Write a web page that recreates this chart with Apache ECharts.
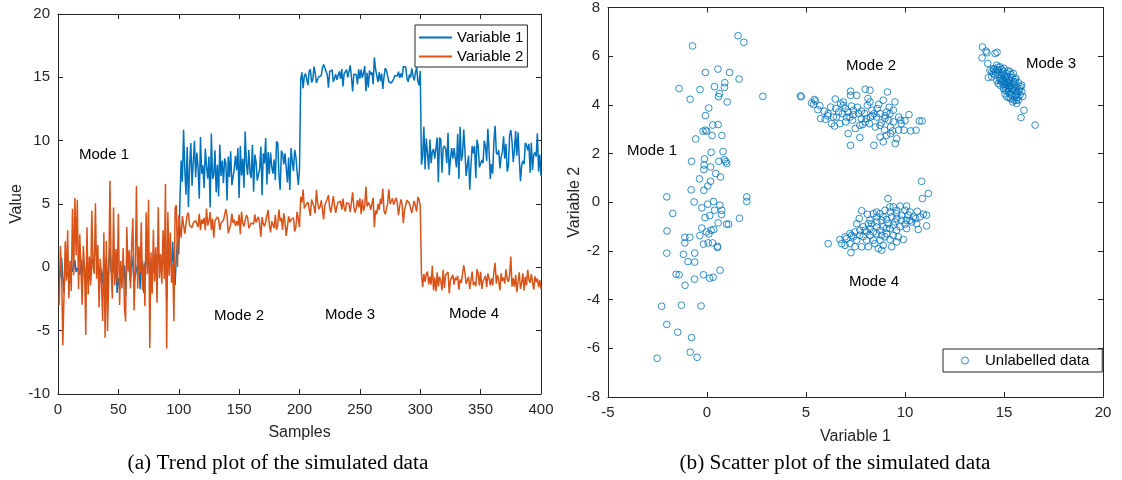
<!DOCTYPE html>
<html>
<head>
<meta charset="utf-8">
<script src="https://cdn.jsdelivr.net/npm/echarts@6/dist/echarts.min.js"></script>
<style>
html,body{margin:0;padding:0;background:#fff;}
#chart{width:1122px;height:480px;}
</style>
</head>
<body>
<div id="chart"></div>
<script>
// ---- Data (samples 1..400, four operating modes) ----
const var1Mode1 = [-0.18,-0.78,0.75,-0.85,-2.03,0.21,-0.26,-0.20,-0.96,-0.80,
0.53,-0.35,-0.10,0.55,-0.38,-0.08,-0.18,-0.57,0.65,-1.56,
0.60,0.04,-1.48,0.29,-1.19,0.18,-1.12,0.63,0.33,0.73,
1.62,1.09,-0.13,-0.63,0.04,-0.36,-1.29,0.26,-0.78,0.81,
-2.03,0.21,1.57,-0.26,-0.62,0.88,-0.87,0.18,-2.02,-0.85,
-1.41,-0.16,0.06,-0.15,0.13,-2.29,0.56,0.38,-0.16,-1.12,
0.88,0.09,-1.11,-0.65,-0.73,0.28,0.95,-1.73,-0.08,0.53,
-2.03,0.31,0.58,0.14,1.14,-0.50,0.44,-0.62,-0.08,0.34,
1.00,0.66,0.38,0.56,0.68,0.10,-0.01,0.99,1.86,-2.52,
2.82,1.64,0.75,-0.03,2.01,-0.30,-1.41,0.90,2.01,1.02];
const var2Mode1 = [-2.98,1.68,-0.33,-6.16,-2.09,2.05,-1.06,2.92,-2.44,0.51,
-1.86,4.63,-0.63,5.47,0.96,5.33,-1.72,2.60,-0.12,-2.96,
1.68,-0.08,-5.34,3.17,-2.14,0.86,-1.44,4.46,0.03,-0.51,
5.06,-0.90,1.78,-3.16,0.67,-1.37,-4.23,2.74,-5.56,2.08,
-5.02,-1.15,6.84,-0.23,-2.46,4.72,-1.44,1.45,-1.18,4.23,
-2.98,0.49,-1.67,1.53,-3.12,-4.27,3.19,-0.33,1.34,-1.67,
1.75,3.87,-3.41,0.01,6.42,-1.67,1.67,-0.46,3.56,-1.81,
0.22,-3.08,4.34,-0.55,5.33,-6.37,1.18,-2.09,2.96,-1.12,
1.59,-2.79,4.75,-0.85,1.04,-1.30,2.92,-0.90,6.57,-6.41,
4.35,-0.66,2.74,-1.22,0.22,-4.26,4.67,4.91,0.03,4.12];
const var1Mode2 = [5.38,8.43,6.75,10.86,7.72,5.74,9.49,4.76,8.00,9.81,
6.44,8.26,10.00,7.12,9.07,7.86,5.42,10.29,7.39,8.06,
6.24,9.38,7.99,7.00,8.74,4.72,10.56,6.98,7.25,9.24,
5.92,8.10,5.60,9.68,7.22,8.43,6.65,8.60,8.23,5.28,
8.74,7.13,9.17,6.48,6.38,7.80,8.80,7.66,9.41,5.48,
9.58,7.25,8.57,6.29,10.72,8.23,7.30,9.27,7.49,7.05,
9.68,5.97,8.90,8.35,6.85,6.88,7.79,9.51,5.70,8.99,
8.20,10.20,6.54,9.11,7.35,9.07,7.96,7.40,8.50,6.88,
9.95,9.78,7.25,6.12,9.20,8.97,8.13,9.00,8.90,6.71,
8.67,6.10,9.41,8.33,7.60,9.27,8.74,7.56,6.51,7.72];
const var2Mode2 = [4.02,2.34,4.05,3.34,2.66,3.44,4.12,4.33,3.30,3.23,
3.13,3.50,3.35,3.70,3.71,3.19,4.22,2.93,3.78,3.44,
3.91,2.93,4.64,3.30,3.64,4.37,2.96,3.85,2.34,3.64,
3.74,3.98,3.80,2.96,3.50,3.64,3.71,3.85,4.60,4.08,
2.68,2.82,3.37,4.24,3.50,3.75,3.26,3.64,3.30,4.16,
2.61,4.39,3.50,3.23,3.34,4.12,3.95,3.09,3.03,3.50,
3.50,3.41,4.19,3.55,3.64,3.98,3.44,2.41,3.97,3.44,
3.23,3.60,3.50,4.53,3.37,2.75,3.64,3.60,3.09,4.12,
2.96,3.37,4.56,3.64,3.90,2.96,4.26,3.55,2.48,3.23,
4.02,3.55,3.78,3.78,3.90,2.82,3.16,4.39,3.85,3.16];
const var1Mode3 = [14.80,15.39,14.14,15.10,15.30,15.20,14.38,15.47,15.64,14.60,
14.80,15.85,15.34,14.55,14.85,15.05,15.05,15.14,15.75,16.01,
15.73,15.47,15.20,14.18,15.45,15.56,15.60,14.63,14.71,15.25,
14.80,15.15,15.47,14.88,15.65,14.29,15.30,15.39,15.60,15.00,
14.97,15.95,15.05,13.89,15.25,15.14,15.22,14.45,15.64,14.90,
15.61,14.97,15.30,15.89,13.91,15.35,14.21,15.55,15.22,15.40,
14.46,16.57,15.64,15.50,14.63,15.39,14.71,15.30,14.09,15.05,
15.73,15.55,15.56,14.65,14.80,14.55,14.50,14.88,15.14,15.00,
15.10,15.44,14.95,15.30,15.00,15.86,15.90,15.81,14.90,14.65,
15.22,14.97,15.70,15.14,14.75,15.35,15.81,14.70,14.38,15.50];
const var2Mode3 = [5.56,5.12,6.14,4.65,4.88,4.90,5.15,4.60,4.06,5.35,
5.08,4.75,4.26,6.11,5.10,4.60,4.77,5.29,4.60,3.78,
4.91,4.95,5.40,5.70,4.70,4.33,4.40,5.63,4.88,4.30,
4.81,5.15,5.29,5.22,4.55,5.43,4.71,4.40,5.10,5.20,
5.01,4.35,5.12,5.93,4.75,4.33,4.67,5.30,4.74,5.45,
4.19,5.36,4.45,4.81,6.38,4.80,5.12,4.95,4.54,4.65,
5.49,3.17,4.49,4.20,5.01,4.54,5.40,5.00,6.21,4.45,
4.19,4.60,5.04,6.16,5.00,5.22,5.45,4.95,4.95,5.50,
5.05,4.12,4.85,5.36,4.95,3.48,4.55,4.67,5.30,5.45,
5.04,4.67,4.30,4.81,5.25,5.25,4.40,5.55,5.36,4.85];
const var1Mode4 = [8.10,8.74,11.09,7.72,10.17,8.99,7.72,10.08,8.23,9.14,
9.33,8.57,8.65,10.25,6.71,10.25,10.08,7.47,9.41,9.58,
9.33,8.23,10.62,7.27,8.57,9.41,8.57,9.41,9.49,7.89,
10.54,6.97,11.09,8.40,8.82,10.88,9.24,7.22,7.30,8.82,
6.12,8.06,9.58,8.99,9.58,7.05,10.08,9.58,7.89,7.81,
8.48,8.23,10.00,9.58,8.40,10.93,9.16,6.97,8.15,7.39,
10.00,11.18,9.07,8.90,9.24,7.81,8.74,9.07,10.34,8.57,
9.75,7.56,7.98,10.42,10.84,9.92,8.31,9.24,10.76,8.82,
10.67,8.57,6.80,8.06,8.40,8.15,9.83,9.66,9.24,9.75,
7.47,9.83,7.69,8.90,9.07,8.74,10.59,7.56,8.90,7.22];
const var2Mode4 = [-0.49,-1.56,-0.53,-1.15,-0.53,-0.33,-1.36,-0.74,-1.36,0.15,
-1.83,-0.81,-1.90,-0.40,-1.53,-0.74,-1.08,-1.83,-0.19,-1.63,
-0.60,-0.74,-0.37,-2.07,-1.01,-0.94,-0.60,-1.36,-0.81,-1.01,
-0.67,-1.77,-0.97,-1.22,-1.36,0.15,-0.40,-1.29,-1.36,-0.74,
-1.70,-1.56,-0.33,-1.42,-1.15,-1.49,-0.16,-0.47,-1.42,-0.35,
-1.70,-1.08,-0.90,-0.67,-1.56,-0.49,-0.88,-1.42,-0.88,-1.42,
-0.33,0.36,-1.29,-0.60,-1.08,-1.83,-0.47,-1.08,-0.81,-1.29,
-0.16,-0.88,-1.15,-0.60,0.86,-1.53,-0.88,-1.53,-0.60,-1.97,
-1.12,-0.40,-1.70,-1.22,-0.47,-1.83,-0.74,-1.42,-0.19,-1.01,
-1.22,-0.53,-0.67,-1.77,-0.71,-1.15,-0.88,-1.56,-1.01,-1.70];

const seriesNames = ['Variable 1', 'Variable 2'];
const scatterName = 'Unlabelled data';
const trendXTicks = {min: 0, max: 400, interval: 50};
const trendYTicks = {min: -10, max: 20, interval: 5};
const scatterXTicks = {min: -5, max: 20, interval: 5};
const scatterYTicks = {min: -8, max: 8, interval: 2};

// ---- Build series data ----
const var1 = [].concat(var1Mode1, var1Mode2, var1Mode3, var1Mode4);
const var2 = [].concat(var2Mode1, var2Mode2, var2Mode3, var2Mode4);
const trend1 = var1.map((v, i) => [i + 1, v]);
const trend2 = var2.map((v, i) => [i + 1, v]);
const scatterPts = var1.map((v, i) => [v, var2[i]]);

const AX = '#262626';
const SANS = '"Liberation Sans", Arial, Helvetica, sans-serif';
const SERIF = '"Liberation Serif", "Times New Roman", serif';
const BLUE = '#0072BD', ORANGE = '#D95319';

function axisBase(ticks, gridIndex, position, showLabel) {
  return Object.assign({
    type: 'value', gridIndex: gridIndex, position: position,
    axisLine: {show: true, onZero: false, lineStyle: {color: AX, width: 1}},
    axisTick: {show: true, inside: true, length: 5, lineStyle: {color: AX, width: 1}},
    axisLabel: {show: showLabel, color: AX, fontSize: 15, fontFamily: SANS, margin: 8},
    splitLine: {show: false}
  }, ticks);
}

const xAxes = [
  Object.assign(axisBase(trendXTicks, 0, 'bottom', true), {
    name: 'Samples', nameLocation: 'middle', nameGap: 31,
    nameTextStyle: {color: AX, fontSize: 16, fontFamily: SANS}
  }),
  axisBase(trendXTicks, 0, 'top', false),
  Object.assign(axisBase(scatterXTicks, 1, 'bottom', true), {
    name: 'Variable 1', nameLocation: 'middle', nameGap: 32,
    nameTextStyle: {color: AX, fontSize: 16, fontFamily: SANS}
  }),
  axisBase(scatterXTicks, 1, 'top', false)
];
const yAxes = [
  Object.assign(axisBase(trendYTicks, 0, 'left', true), {
    name: 'Value', nameLocation: 'middle', nameGap: 31,
    nameTextStyle: {color: AX, fontSize: 16, fontFamily: SANS}
  }),
  axisBase(trendYTicks, 0, 'right', false),
  Object.assign(axisBase(scatterYTicks, 1, 'left', true), {
    name: 'Variable 2', nameLocation: 'middle', nameGap: 20,
    nameTextStyle: {color: AX, fontSize: 16, fontFamily: SANS}
  }),
  axisBase(scatterYTicks, 1, 'right', false)
];

function label(text, x, y, font) {
  return {type: 'text', style: {text: text, x: x, y: y, textAlign: 'center',
    textVerticalAlign: 'middle', verticalAlign: 'middle', font: font, fill: '#000'}};
}
const f15 = '15px ' + SANS;
const fCap = '21.3px ' + SERIF;

const chart = echarts.init(document.getElementById('chart'), null, {renderer: 'canvas'});
chart.setOption({
  animation: false,
  backgroundColor: '#fff',
  grid: [
    {left: 58, top: 14, width: 483, height: 380},
    {left: 608, top: 7, width: 495, height: 390}
  ],
  xAxis: xAxes,
  yAxis: yAxes,
  legend: [
    {
      data: seriesNames, orient: 'vertical', left: 415, top: 25,
      padding: [4, 4, 2, 4], itemGap: 2, itemWidth: 33, itemHeight: 2, icon: 'rect',
      backgroundColor: '#fff', borderColor: AX, borderWidth: 1, borderRadius: 0,
      textStyle: {color: '#000', fontSize: 15, fontFamily: SANS, lineHeight: 17}
    },
    {
      data: [scatterName], orient: 'vertical', left: 943, top: 349,
      padding: [3, 13, 3, 18], itemWidth: 30, itemHeight: 7, icon: 'circle',
      itemStyle: {color: 'rgba(0,0,0,0)', borderColor: BLUE, borderWidth: 1},
      backgroundColor: '#fff', borderColor: AX, borderWidth: 1, borderRadius: 0,
      textStyle: {color: '#000', fontSize: 15, fontFamily: SANS, lineHeight: 17}
    }
  ],
  series: [
    {name: seriesNames[0], type: 'line', xAxisIndex: 0, yAxisIndex: 0, data: trend1,
     showSymbol: false, symbol: 'none', color: BLUE, lineStyle: {color: BLUE, width: 1.5}},
    {name: seriesNames[1], type: 'line', xAxisIndex: 0, yAxisIndex: 0, data: trend2,
     showSymbol: false, symbol: 'none', color: ORANGE, lineStyle: {color: ORANGE, width: 1.5}},
    {name: scatterName, type: 'scatter', xAxisIndex: 2, yAxisIndex: 2, data: scatterPts,
     symbol: 'circle', symbolSize: 6.7,
     itemStyle: {color: 'rgba(0,0,0,0)', borderColor: BLUE, borderWidth: 1}}
  ],
  graphic: [
    label('Mode 1', 104, 155, f15),
    label('Mode 2', 239, 316, f15),
    label('Mode 3', 350, 315, f15),
    label('Mode 4', 474, 314, f15),
    label('Mode 1', 652, 151, f15),
    label('Mode 2', 871, 66, f15),
    label('Mode 3', 1051, 64, f15),
    label('Mode 4', 874, 282, f15),
    label('(a) Trend plot of the simulated data', 278, 463, fCap),
    label('(b) Scatter plot of the simulated data', 835, 463, fCap)
  ]
});
</script>
</body>
</html>
